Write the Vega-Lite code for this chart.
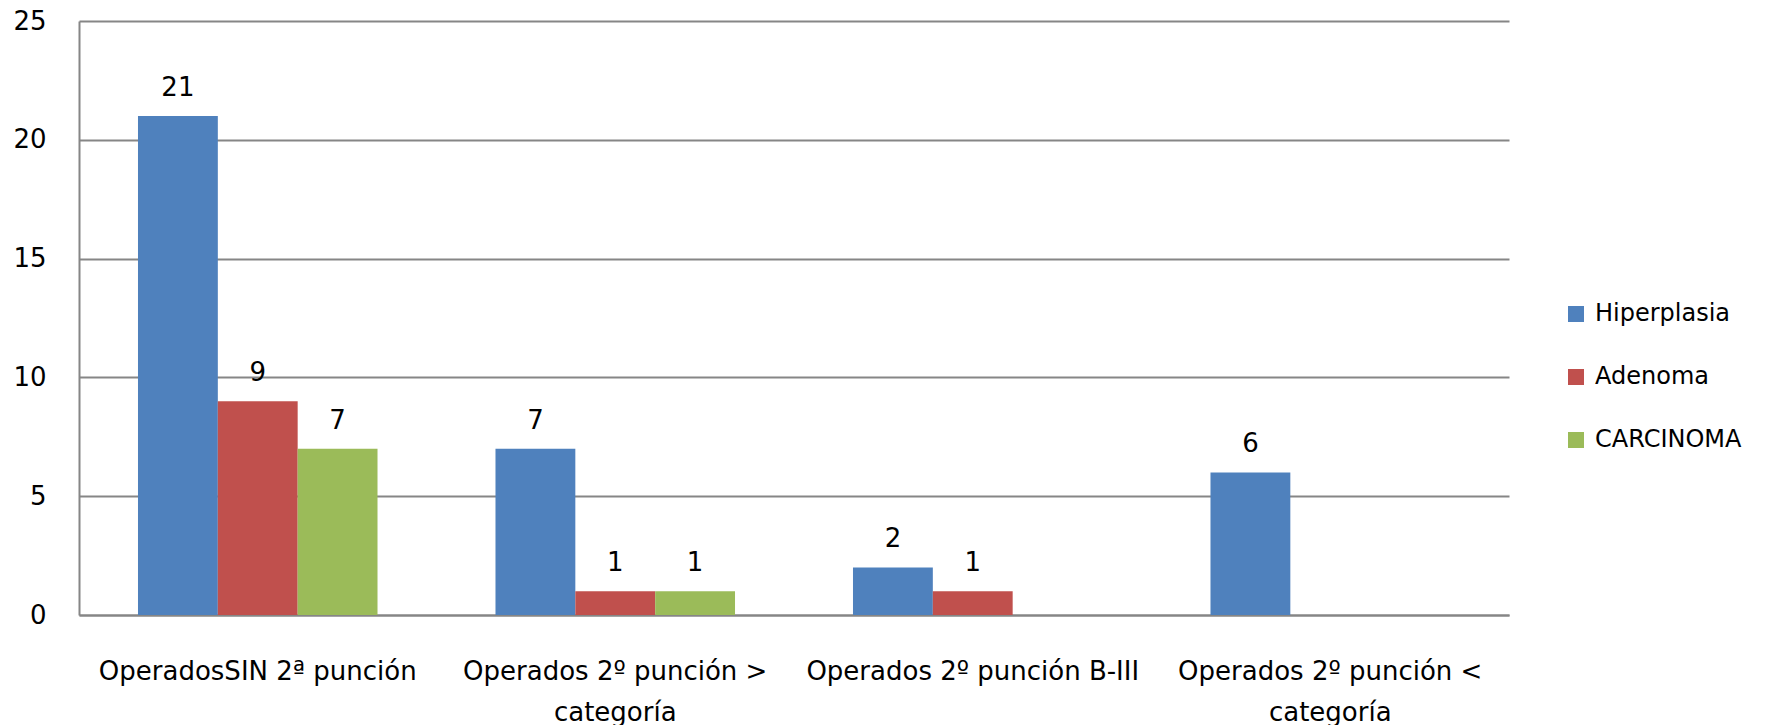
{
  "$schema": "https://vega.github.io/schema/vega-lite/v6.json",
  "autosize": "none",
  "padding": {"left": 79, "top": 21, "right": 257, "bottom": 110},
  "width": 1430,
  "height": 594,
  "background": "white",
  "config": {
    "font": "DejaVu Sans",
    "view": {"stroke": null}
  },
  "data": {
    "values": [
      {"grupo": "OperadosSIN 2ª punción", "diagnostico": "Hiperplasia", "casos": 21},
      {"grupo": "OperadosSIN 2ª punción", "diagnostico": "Adenoma", "casos": 9},
      {"grupo": "OperadosSIN 2ª punción", "diagnostico": "CARCINOMA", "casos": 7},
      {"grupo": "Operados 2º punción > categoría", "diagnostico": "Hiperplasia", "casos": 7},
      {"grupo": "Operados 2º punción > categoría", "diagnostico": "Adenoma", "casos": 1},
      {"grupo": "Operados 2º punción > categoría", "diagnostico": "CARCINOMA", "casos": 1},
      {"grupo": "Operados 2º punción B-III", "diagnostico": "Hiperplasia", "casos": 2},
      {"grupo": "Operados 2º punción B-III", "diagnostico": "Adenoma", "casos": 1},
      {"grupo": "Operados 2º punción < categoría", "diagnostico": "Hiperplasia", "casos": 6}
    ]
  },
  "encoding": {
    "x": {
      "field": "grupo",
      "type": "nominal",
      "sort": null,
      "scale": {"paddingInner": 0.33, "paddingOuter": 0.165},
      "axis": {
        "title": null,
        "labelAngle": 0,
        "labelFont": "DejaVu Sans",
        "labelFontSize": 26,
        "labelColor": "#000000",
        "labelLineHeight": 41,
        "labelPadding": 43,
        "labelBaseline": "top",
        "labelLimit": 0,
        "ticks": false,
        "domainColor": "#868686",
        "domainWidth": 2,
        "labelExpr": "indexof(datum.label, ' categoría') > 0 ? [substring(datum.label, 0, indexof(datum.label, ' categoría')), 'categoría'] : datum.label"
      }
    },
    "xOffset": {
      "field": "diagnostico",
      "type": "nominal",
      "sort": ["Hiperplasia", "Adenoma", "CARCINOMA"],
      "scale": {"domain": ["Hiperplasia", "Adenoma", "CARCINOMA"], "paddingInner": 0, "paddingOuter": 0}
    },
    "y": {
      "field": "casos",
      "type": "quantitative",
      "scale": {"domain": [0, 25], "nice": false},
      "axis": {
        "title": null,
        "values": [0, 5, 10, 15, 20, 25],
        "labelFont": "DejaVu Sans",
        "labelFontSize": 26,
        "labelColor": "#000000",
        "labelPadding": 33,
        "ticks": false,
        "grid": true,
        "gridColor": "#868686",
        "gridWidth": 2,
        "domainColor": "#868686",
        "domainWidth": 2
      }
    }
  },
  "layer": [
    {
      "mark": {"type": "bar"},
      "encoding": {
        "color": {
          "field": "diagnostico",
          "type": "nominal",
          "scale": {
            "domain": ["Hiperplasia", "Adenoma", "CARCINOMA"],
            "range": ["#4F81BD", "#C0504D", "#9BBB59"]
          },
          "legend": {
            "title": null,
            "orient": "none",
            "legendX": 1485,
            "legendY": 281,
            "symbolType": "square",
            "symbolSize": 256,
            "symbolStrokeWidth": 0,
            "labelFont": "DejaVu Sans",
            "labelFontSize": 24,
            "labelColor": "#000000",
            "labelOffset": 7,
            "rowPadding": 39
          }
        }
      }
    },
    {
      "mark": {"type": "text", "baseline": "alphabetic", "dy": -20, "font": "DejaVu Sans", "fontSize": 26, "color": "#000000"},
      "encoding": {
        "text": {"field": "casos", "type": "quantitative"}
      }
    }
  ]
}
